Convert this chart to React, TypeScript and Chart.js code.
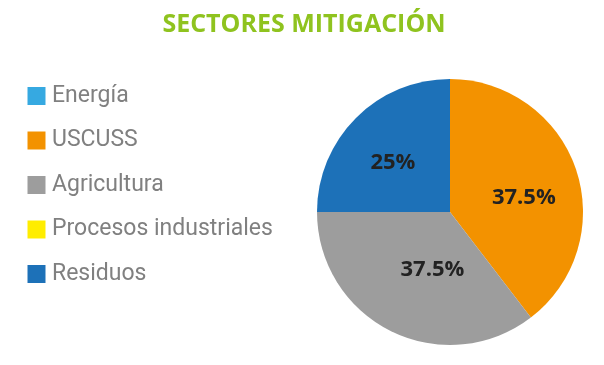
import React, { useEffect, useRef } from 'react';
import { Chart, registerables } from 'chart.js';

Chart.register(...registerables);

const chartTitle = 'SECTORES MITIGACIÓN';
const categories = ['Energía', 'USCUSS', 'Agricultura', 'Procesos industriales', 'Residuos'];
// slice sizes as drawn in the picture (share of the circle, %)
const sliceShares = [0, 39.6, 35.4, 0, 25];
// percentage labels printed on the slices
const sliceLabels = ['0%', '37.5%', '37.5%', '0%', '25%'];
const sliceColors = ['#36a9e1', '#f39200', '#9d9d9d', '#ffed00', '#1d71b8'];

const legendTextColor = '#808080';

const sliceLabelPlugin = {
  id: 'sliceLabels',
  afterDatasetsDraw(chart: any, _args: any, opts: any) {
    const meta = chart.getDatasetMeta(0);
    const data = chart.data.datasets[0].data as number[];
    const ctx = chart.ctx as CanvasRenderingContext2D;
    ctx.save();
    ctx.font = opts.font;
    ctx.fillStyle = opts.color;
    ctx.textAlign = 'center';
    ctx.textBaseline = 'middle';
    meta.data.forEach((arc: any, i: number) => {
      if (!data[i]) return;
      const { x, y, startAngle, endAngle, outerRadius } = arc.getProps(
        ['x', 'y', 'startAngle', 'endAngle', 'outerRadius'],
        true
      );
      const mid = (startAngle + endAngle) / 2;
      const r = outerRadius * opts.radiusFactor;
      const nudge = (opts.nudges && opts.nudges[i]) || [0, 0];
      ctx.fillText(opts.texts[i], x + Math.cos(mid) * r + nudge[0], y + Math.sin(mid) * r + nudge[1]);
    });
    ctx.restore();
  },
};

const legendWidthPlugin = {
  id: 'legendWidth',
  beforeLayout(chart: any, _args: any, opts: any) {
    const lg = chart.legend;
    if (lg && !lg.__wrapped) {
      const orig = lg.fit.bind(lg);
      lg.fit = function () {
        orig();
        this.width = Math.max(this.width, opts.minWidth || 0);
      };
      lg.__wrapped = true;
    }
  },
};

export default function App() {
  const canvasRef = useRef<HTMLCanvasElement | null>(null);

  useEffect(() => {
    document.body.style.margin = '0';
    const canvas = canvasRef.current;
    if (!canvas) return;
    const chart = new Chart(canvas, {
      type: 'pie',
      data: {
        labels: categories,
        datasets: [
          {
            data: sliceShares,
            backgroundColor: sliceColors,
            borderWidth: 0,
            radius: 133,
          } as any,
        ],
      },
      options: {
        responsive: false,
        animation: false,
        layout: { padding: { left: 11, right: 7, top: 0, bottom: 4 } },
        plugins: {
          title: {
            display: true,
            text: chartTitle,
            color: '#8fc31f',
            font: { family: 'Open Sans', size: 25, weight: 'bold' },
            padding: { top: 10, bottom: 23 },
          },
          legend: {
            position: 'left',
            align: 'start',
            fullSize: false,
            labels: {
              padding: 21.5,
              boxWidth: 8,
              boxHeight: 8,
              color: legendTextColor,
              font: { family: 'Roboto', size: 23 },
              generateLabels: (c: any) =>
                (c.data.labels as string[]).map((t, i) => ({
                  text: t,
                  fillStyle: sliceColors[i],
                  strokeStyle: sliceColors[i],
                  lineWidth: 10,
                  fontColor: legendTextColor,
                  hidden: false,
                  index: i,
                  datasetIndex: 0,
                })),
            },
          },
          tooltip: { enabled: false },
          sliceLabels: {
            font: 'bold 22px "Open Sans"',
            color: '#222222',
            radiusFactor: 0.57,
            texts: sliceLabels,
            nudges: [
              [0, 0],
              [2, 10.5],
              [16, -10],
              [0, 0],
              [-3.5, 4],
            ],
          },
          legendWidth: { minWidth: 292 },
        } as any,
      },
      plugins: [sliceLabelPlugin, legendWidthPlugin],
    });
    return () => chart.destroy();
  }, []);

  return (
    <div style={{ width: 604, height: 365 }}>
      <canvas ref={canvasRef} width={604} height={365} style={{ display: 'block' }} />
    </div>
  );
}
